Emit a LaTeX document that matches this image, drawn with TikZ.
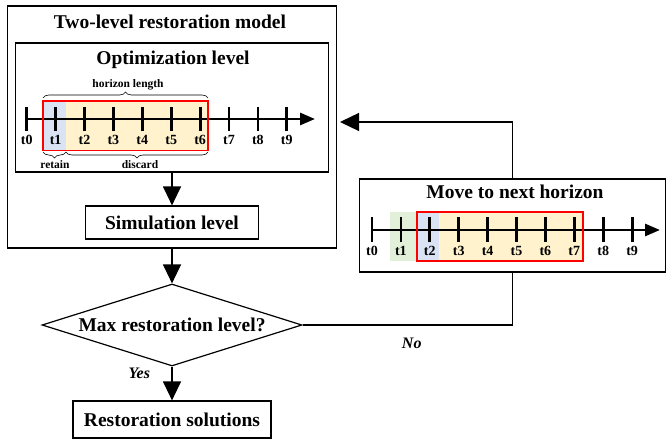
\documentclass[tikz,border=0pt]{standalone}
\usepackage{fontspec}
\setmainfont{Liberation Serif}
\usetikzlibrary{arrows.meta,positioning,shapes.geometric,decorations.pathreplacing}
\definecolor{retainblue}{RGB}{218,227,243}
\definecolor{discardyel}{RGB}{255,242,204}
\definecolor{pastgreen}{RGB}{226,240,217}
\newcommand{\headfont}{\fontsize{19.5}{22}\selectfont\bfseries}
\tikzset{
  lvlbox/.style={draw, line width=1.2pt, inner sep=0pt, font=\headfont},
  heading/.style={font=\headfont, anchor=base, inner sep=0pt},
  decision/.style={draw, diamond, aspect=3.17, inner sep=0pt, line width=1.2pt, minimum width=260pt, minimum height=82pt, font=\headfont},
  tlabel/.style={font=\fontsize{14}{16}\selectfont\bfseries, anchor=base, inner sep=0pt},
  bracelabel/.style={font=\fontsize{11.5}{13}\selectfont\bfseries, anchor=base, inner sep=0pt},
  answer/.style={font=\fontsize{16}{18}\selectfont\bfseries\itshape},
  axisline/.style={line width=2.8pt, -{Triangle[length=15pt,width=12pt]}},
  tickmark/.style={line width=2.8pt},
  flow/.style={line width=1.3pt, -{Triangle[length=19pt,width=18pt]}},
  hzframe/.style={draw=red, line width=1.5pt},
  hbrace/.style={decorate, decoration={brace, amplitude=6pt}, line width=0.6pt}
}
\begin{document}
\begin{tikzpicture}[x=1pt,y=-1pt]
  \useasboundingbox (0,0) rectangle (667,441);
  % boxes
  \node[lvlbox, minimum width=329pt, minimum height=242pt] (model) at (172,127) {};
  \node[heading] (modeltitle) at (170,28.3) {Two-level restoration model};
  \node[lvlbox, minimum width=313pt, minimum height=129pt] (opt) at (172,107.5) {};
  \node[heading] (opttitle) at (173,65) {Optimization level};
  \node[lvlbox, minimum width=173pt, minimum height=33pt] (sim) at (172,222.5) {Simulation level};
  \node[decision] (check) at (172,325) {Max restoration level?};
  \node[lvlbox, minimum width=198pt, minimum height=37pt] (result) at (172,419.5) {Restoration solutions};
  \node[lvlbox, minimum width=306pt, minimum height=93pt] (nexth) at (512.5,225.5) {};
  \node[heading] (nexttitle) at (515,198.3) {Move to next horizon};
  \coordinate (backin) at (340,122);
  % current horizon
  \fill[retainblue] (43,101) rectangle (66,150.5);
  \fill[discardyel] (66,101) rectangle (208,150.5);
  \draw[axisline] (26.7,119) -- (315,119);
  \foreach \i in {0,...,9} {
    \draw[tickmark] (26.7+28.9*\i,107) -- (26.7+28.9*\i,131);
    \node[tlabel] (p\i) at (26.7+28.9*\i,145) {t\i};
  }
  \draw[hzframe] (43,101) rectangle (208,150.5);
  \draw[hbrace] (43,98) -- (208,98);
  \node[bracelabel] (hzlen) at (128,88) {horizon length};
  \draw[hbrace] (66,152) -- (43,152);
  \node[bracelabel] (keep) at (55,168) {retain};
  \draw[hbrace] (208,152) -- (66,152);
  \node[bracelabel] (drop) at (140,168) {discard};
  % next horizon
  \fill[pastgreen] (390,212) rectangle (417,261);
  \fill[retainblue] (417,212) rectangle (439,261);
  \fill[discardyel] (439,212) rectangle (583,261);
  \draw[axisline] (372,230) -- (660,230);
  \foreach \i in {0,...,9} {
    \draw[tickmark] (372+28.9*\i,217) -- (372+28.9*\i,242);
    \node[tlabel] (q\i) at (372+28.9*\i,255.7) {t\i};
  }
  \draw[hzframe] (417,212) rectangle (583,261);
  % flow
  \draw[flow] (opt) -- (sim);
  \draw[flow] (model) -- (check);
  \draw[flow] (check) -- node[answer, pos=0.2, left=18pt] (yes) {Yes} (result);
  \draw[line width=1.3pt] (check) -| node[answer, pos=0.26, below=9pt] (no) {No} (nexth);
  \draw[flow] (nexth) |- (backin);
\end{tikzpicture}
\end{document}
